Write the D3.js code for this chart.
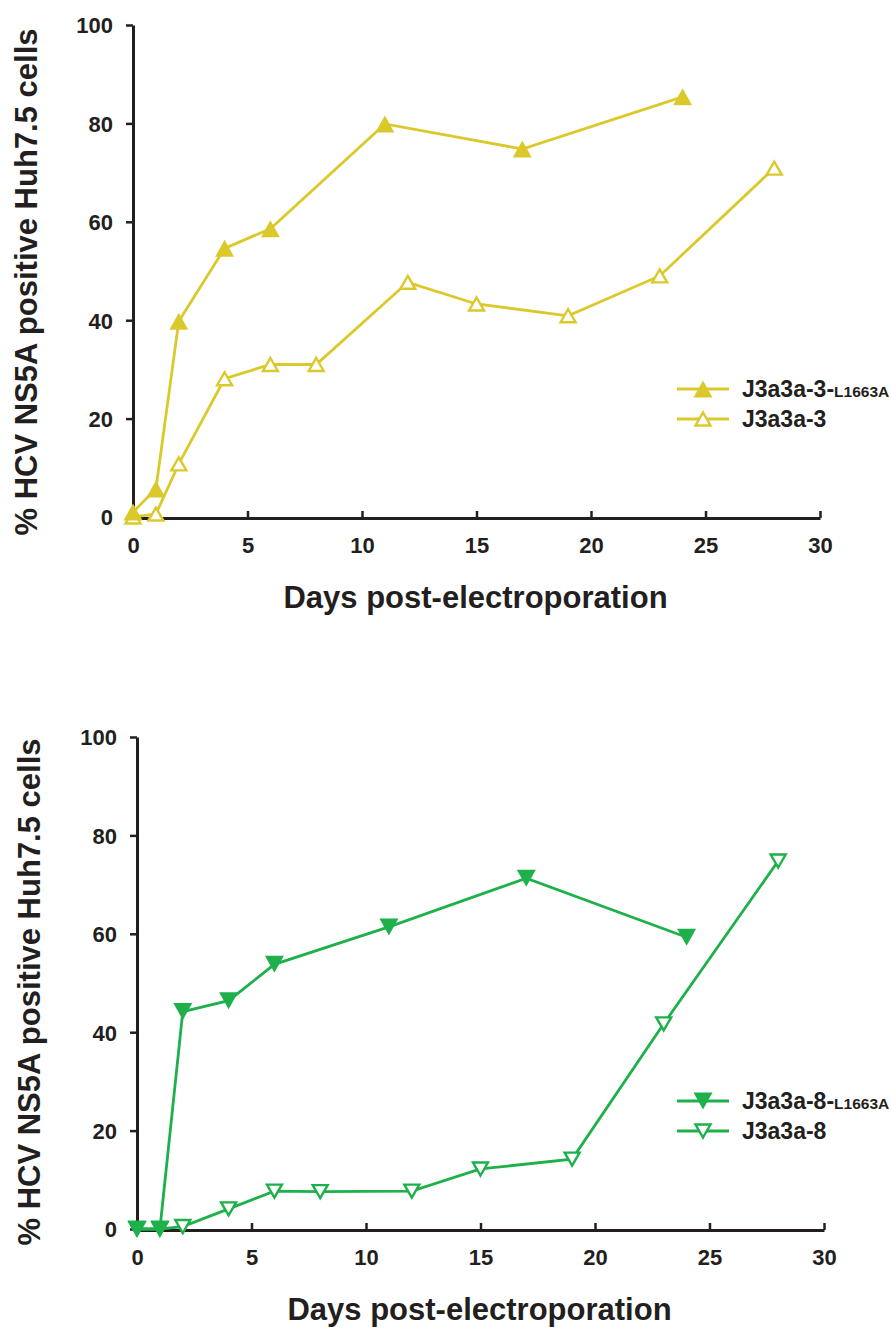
<!DOCTYPE html>
<html>
<head>
<meta charset="utf-8">
<script src="https://d3js.org/d3.v7.min.js"></script>
<style>
  body { margin: 0; background: #fff; }
  text { font-family: "Liberation Sans", Arial, sans-serif; font-weight: bold; fill: #231f20; }
</style>
</head>
<body>
<div id="chart-container"></div>
<script>
// data
var xTicks = [0, 5, 10, 15, 20, 25, 30];
var yTicks = [0, 20, 40, 60, 80, 100];

// top panel (clone 3)
var daysA_mut = [0, 1, 2, 4, 6, 11, 17, 24];
var valsA_mut = [1.0, 5.7, 39.8, 54.6, 58.6, 79.9, 74.8, 85.4];
var daysA_wt = [0, 1, 2, 4, 6, 8, 12, 15, 19, 23, 28];
var valsA_wt = [0, 0.6, 10.8, 28.1, 31.0, 31.0, 47.7, 43.3, 40.9, 49.0, 70.9];

// bottom panel (clone 8)
var daysB_mut = [0, 1, 2, 4, 6, 11, 17, 24];
var valsB_mut = [0, 0, 44.2, 46.4, 53.8, 61.4, 71.3, 59.3];
var daysB_wt = [0, 1, 2, 4, 6, 8, 12, 15, 19, 23, 28];
var valsB_wt = [0, 0, 0.5, 4.1, 7.7, 7.6, 7.7, 12.2, 14.2, 41.7, 74.8];

var labelsA = ["J3a3a-3-", "L1663A", "J3a3a-3"];
var labelsB = ["J3a3a-8-", "L1663A", "J3a3a-8"];

var yellow = "#dbc92c",
    green = "#1eb04b";

var width = 891, height = 1327;

var svg = d3.select("#chart-container")
  .append("svg")
    .attr("width", width)
    .attr("height", height);

// triangle centred on its bounding box (like the spreadsheet markers)
function triPath(w, h, down) {
  var s = down ? -1 : 1;
  return "M0," + (-s * h / 2) + "L" + (w / 2) + "," + (s * h / 2) + "L" + (-w / 2) + "," + (s * h / 2) + "Z";
}

function drawPanel(p) {
  var g = svg.append("g");

  var xScale = d3.scaleLinear().domain([0, 30]).range([p.left, p.right]);
  var yScale = d3.scaleLinear().domain([0, 100]).range([p.bottom, p.top]);

  // y axis
  var yAx = g.append("g")
    .attr("transform", "translate(" + p.left + ",0)")
    .call(d3.axisLeft(yScale).tickValues(yTicks).tickSize(7).tickPadding(13).tickSizeOuter(0));
  yAx.select(".domain").attr("stroke", "#231f20").attr("stroke-width", 3);
  yAx.selectAll(".tick line").attr("stroke", "#231f20").attr("stroke-width", 2.5);
  yAx.selectAll(".tick text").style("font-size", "22px").attr("dy", "0.36em");

  // x axis, ticks pointing up into the plot
  var xAx = g.append("g")
    .attr("transform", "translate(0," + (p.bottom + 1) + ")")
    .call(d3.axisBottom(xScale).tickValues(xTicks).tickSize(-7).tickPadding(19).tickSizeOuter(0));
  xAx.select(".domain").attr("stroke", "#231f20").attr("stroke-width", 3);
  xAx.selectAll(".tick line").attr("stroke", "#231f20").attr("stroke-width", 2.5);
  xAx.selectAll(".tick text").style("font-size", "22px").attr("dy", "0.71em");

  // axis titles
  g.append("text")
    .attr("x", (p.left + p.right) / 2 - 1)
    .attr("y", p.bottom + 91)
    .attr("text-anchor", "middle")
    .style("font-size", "31px")
    .text("Days post-electroporation");

  g.append("text")
    .attr("transform", "translate(" + p.ytitleX + "," + p.ytitleY + ") rotate(-90)")
    .attr("text-anchor", "middle")
    .style("font-size", "31px")
    .text("% HCV NS5A positive Huh7.5 cells");

  var line = d3.line()
    .x(function(d) { return xScale(d[0]); })
    .y(function(d) { return yScale(d[1]); });

  var solid = triPath(19, 17, p.down),
      hollow = triPath(15, 13, p.down);

  // hollow series first so the filled markers sit on top
  p.series.slice().reverse().forEach(function(s) {
    var pts = d3.zip(s.days, s.vals);
    g.append("path")
      .datum(pts)
      .attr("fill", "none")
      .attr("stroke", p.color)
      .attr("stroke-width", 2.8)
      .attr("d", line);
    g.append("g").selectAll("path")
      .data(pts)
      .enter()
      .append("path")
        .attr("d", s.filled ? solid : hollow)
        .attr("transform", function(d) { return "translate(" + xScale(d[0]) + "," + yScale(d[1]) + ")"; })
        .attr("fill", s.filled ? p.color : "#fff")
        .attr("stroke", p.color)
        .attr("stroke-width", s.filled ? 0 : 2.4);
  });

  // legend
  p.series.forEach(function(s, i) {
    var ly = p.legendY + i * 30;
    g.append("line")
      .attr("x1", 677).attr("x2", 729)
      .attr("y1", ly).attr("y2", ly)
      .attr("stroke", p.color).attr("stroke-width", 2.8);
    g.append("path")
      .attr("d", s.filled ? solid : hollow)
      .attr("transform", "translate(703," + ly + ")")
      .attr("fill", s.filled ? p.color : "#fff")
      .attr("stroke", p.color)
      .attr("stroke-width", s.filled ? 0 : 2.4);
    var t = g.append("text")
      .attr("x", 742).attr("y", ly + 8)
      .style("font-size", "23px");
    if (s.filled) {
      t.append("tspan").text(p.labels[0]);
      t.append("tspan").style("font-size", "15.5px").text(p.labels[1]);
    } else {
      t.text(p.labels[2]);
    }
  });
}

drawPanel({
  left: 133, right: 820, top: 25, bottom: 517,
  ytitleX: 37, ytitleY: 282,
  color: yellow, down: false, legendY: 389,
  labels: labelsA,
  series: [
    {days: daysA_mut, vals: valsA_mut, filled: true},
    {days: daysA_wt, vals: valsA_wt, filled: false}
  ]
});

drawPanel({
  left: 137, right: 824, top: 737, bottom: 1229,
  ytitleX: 40, ytitleY: 992,
  color: green, down: true, legendY: 1101,
  labels: labelsB,
  series: [
    {days: daysB_mut, vals: valsB_mut, filled: true},
    {days: daysB_wt, vals: valsB_wt, filled: false}
  ]
});
</script>
</body>
</html>
